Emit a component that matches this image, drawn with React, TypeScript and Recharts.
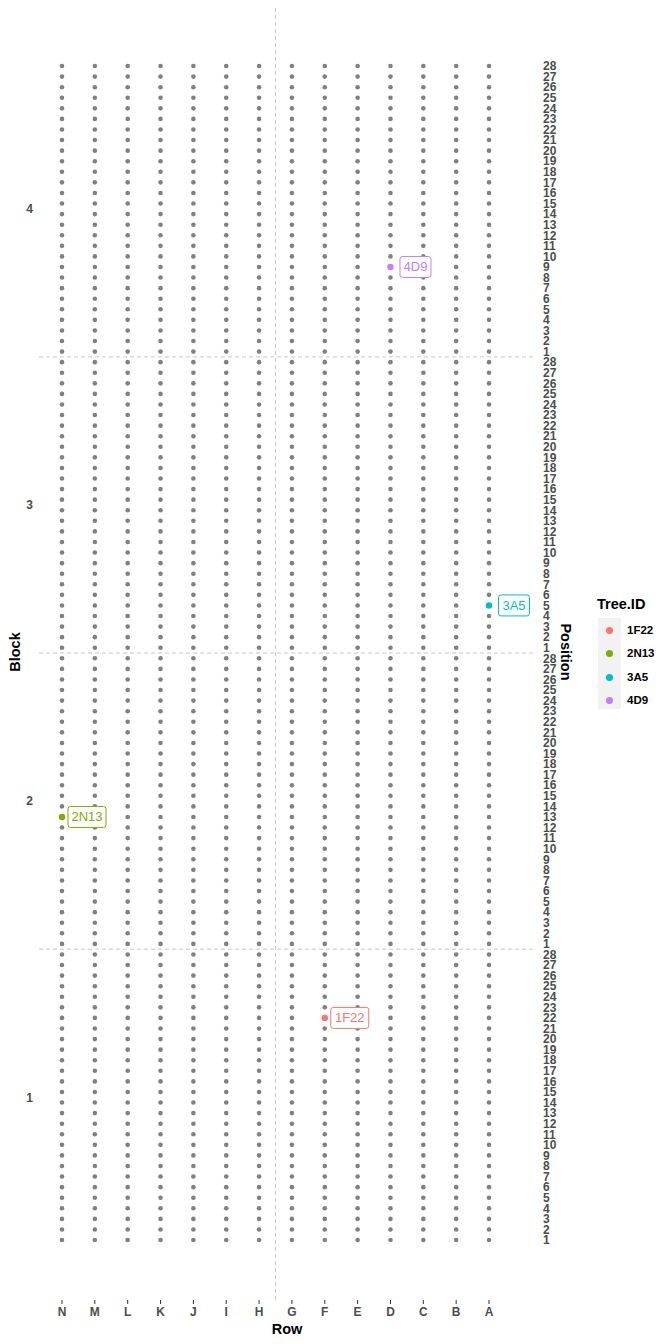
import { ScatterChart, Scatter, XAxis, YAxis, ReferenceLine } from "recharts";

const rows = ["N", "M", "L", "K", "J", "I", "H", "G", "F", "E", "D", "C", "B", "A"];
const blocks = [1, 2, 3, 4];
const positions = [
  1, 2, 3, 4, 5, 6, 7, 8, 9, 10, 11, 12, 13, 14,
  15, 16, 17, 18, 19, 20, 21, 22, 23, 24, 25, 26, 27, 28,
];
const treeIds = ["1F22", "2N13", "3A5", "4D9"];
const treeBlock = [1, 2, 3, 4];
const treeRow = ["F", "N", "A", "D"];
const treePos = [22, 13, 5, 9];
const treeColors = ["#F8766D", "#7CAE00", "#00BFC4", "#C77CFF"];

const PER_BLOCK = positions.length;
const yIndex = (block: number, pos: number) => (block - 1) * PER_BLOCK + pos;

const allTrees = blocks.flatMap((b) =>
  rows.flatMap((r, ri) => positions.map((p) => ({ x: ri + 1, y: yIndex(b, p) })))
);

const highlighted = treeIds.map((id, i) => ({
  id,
  color: treeColors[i],
  x: rows.indexOf(treeRow[i]) + 1,
  y: yIndex(treeBlock[i], treePos[i]),
}));

const xTicks = rows.map((_, i) => i + 1);
const blockTicks = blocks.map((b) => (b - 1) * PER_BLOCK + (PER_BLOCK + 1) / 2);
const posTicks = blocks.flatMap((b) => positions.map((p) => yIndex(b, p)));
const blockLines = blocks.slice(1).map((b) => (b - 1) * PER_BLOCK + 0.5);

const axisText = { fill: "#4d4d4d", fontSize: 12, fontWeight: "bold" as const };
const FONT = "'Liberation Sans', Arial, sans-serif";
const DASH = "#c8c8c8";

function TreeLabel(props: any) {
  const { cx, cy, payload } = props;
  const w = payload.id.length * 7 + 10;
  const lx = cx + 25;
  return (
    <g>
      <circle cx={cx} cy={cy} r={3.2} fill={payload.color} />
      <rect x={lx - w / 2} y={cy - 10.5} width={w} height={21} rx={2.5} fill="#fff" stroke={payload.color} strokeWidth={1} />
      <text x={lx} y={cy + 4.5} textAnchor="middle" fill={payload.color} fontSize={13} fontFamily={FONT}>
        {payload.id}
      </text>
    </g>
  );
}

function Legend() {
  return (
    <div style={{ position: "absolute", left: 597, top: 595, fontFamily: FONT }}>
      <div style={{ fontSize: 14.5, fontWeight: "bold", color: "#000", lineHeight: "18px" }}>Tree.ID</div>
      <div style={{ position: "absolute", left: 1, top: 23, width: 23, height: 91, background: "#f2f2f2" }} />
      {highlighted.map((t, i) => (
        <div key={t.id} style={{ position: "absolute", left: 0, top: 27 + i * 23.3, height: 16, width: 80 }}>
          <div style={{ position: "absolute", left: 9, top: 5, width: 7, height: 7, borderRadius: 4, background: t.color }} />
          <div style={{ position: "absolute", left: 30, top: 0, fontSize: 11.5, fontWeight: "bold", color: "#000", lineHeight: "16px" }}>
            {t.id}
          </div>
        </div>
      ))}
    </div>
  );
}

export default function App() {
  return (
    <div style={{ position: "absolute", left: 0, top: 0, width: 672, height: 1344, background: "#fff", fontFamily: FONT }}>
      <ScatterChart width={672} height={1344} margin={{ top: 5, right: 107, bottom: 22, left: 9 }} style={{ fontFamily: FONT }}>
        <XAxis
          type="number"
          dataKey="x"
          domain={[0.3, 15.4]}
          allowDataOverflow
          ticks={xTicks}
          interval={0}
          tickFormatter={(v: number) => rows[v - 1]}
          axisLine={false}
          tickLine={{ stroke: "#333", strokeWidth: 1 }}
          tickSize={4}
          tickMargin={3}
          height={22}
          tick={axisText}
          label={{
            content: (p: any) => (
              <text x={p.viewBox.x + p.viewBox.width / 2} y={1334} textAnchor="middle" fontSize={14.5} fontWeight="bold" fill="#000" fontFamily={FONT}>
                Row
              </text>
            ),
          }}
        />
        <YAxis
          yAxisId="left"
          type="number"
          dataKey="y"
          domain={[-4.67, 117.77]}
          allowDataOverflow
          ticks={blockTicks}
          interval={0}
          tickFormatter={(v: number) => String(Math.round((v - (PER_BLOCK + 1) / 2) / PER_BLOCK) + 1)}
          axisLine={false}
          tickLine={false}
          tickSize={0}
          tickMargin={6}
          width={30}
          tick={axisText}
          label={{
            content: () => (
              <text x={20} y={652} textAnchor="middle" fontSize={14.5} fontWeight="bold" fill="#000" fontFamily={FONT} transform="rotate(-90 20 652)">
                Block
              </text>
            ),
          }}
        />
        <YAxis
          yAxisId="right"
          orientation="right"
          type="number"
          dataKey="y"
          domain={[-4.67, 117.77]}
          allowDataOverflow
          ticks={posTicks}
          interval={0}
          tickFormatter={(v: number) => String(((v - 1) % PER_BLOCK) + 1)}
          axisLine={false}
          tickLine={false}
          tickSize={0}
          tickMargin={8}
          width={30}
          tick={axisText}
          label={{
            content: () => (
              <text x={561} y={652} textAnchor="middle" fontSize={14.5} fontWeight="bold" fill="#000" fontFamily={FONT} transform="rotate(90 561 652)">
                Position
              </text>
            ),
          }}
        />
        <ReferenceLine yAxisId="left" x={7.5} stroke={DASH} strokeDasharray="4 3" />
        {blockLines.map((y) => (
          <ReferenceLine key={y} yAxisId="left" y={y} stroke={DASH} strokeDasharray="4 3" />
        ))}
        <Scatter
          yAxisId="left"
          data={allTrees}
          isAnimationActive={false}
          shape={(p: any) => <circle cx={p.cx} cy={p.cy} r={2.3} fill="#808080" />}
        />
        <Scatter yAxisId="left" data={highlighted} isAnimationActive={false} shape={TreeLabel} />
      </ScatterChart>
      <Legend />
    </div>
  );
}
